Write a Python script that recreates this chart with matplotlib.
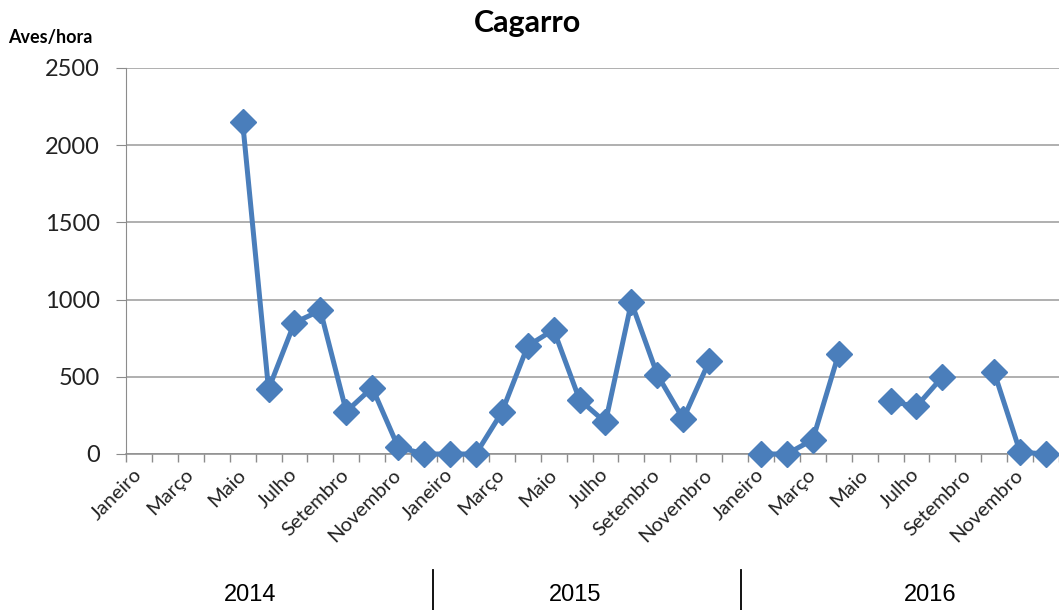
import numpy as np
import matplotlib
matplotlib.use("Agg")
import matplotlib.pyplot as plt
from matplotlib.ticker import FixedLocator

# monthly data Jan 2014 - Dec 2016 (NaN = no count)
meses = ["Janeiro", "Fevereiro", "Março", "Abril", "Maio", "Junho",
         "Julho", "Agosto", "Setembro", "Outubro", "Novembro", "Dezembro"]
anos = ["2014", "2015", "2016"]
nan = np.nan
aves_2014 = [nan, nan, nan, nan, 2150, 420, 850, 930, 275, 430, 45, 0]
aves_2015 = [0, 0, 270, 700, 805, 352, 205, 982, 514, 227, 600, nan]
aves_2016 = [0, 0, 93, 650, nan, 341, 308, 499, nan, 529, 12, 0]
valores = aves_2014 + aves_2015 + aves_2016
rotulos = meses * 3

azul = "#4a7ebb"
cinza = "#8c8c8c"
fonte = "Lato"

fig = plt.figure(figsize=(10.59, 6.10), dpi=100)
ax = fig.add_axes([126 / 1059, 156 / 610, 933 / 1059, 386 / 610])

x = np.arange(len(valores))
ax.plot(x, valores, color=azul, lw=3.6, marker="D", markersize=13,
        markeredgecolor=azul, markerfacecolor=azul, clip_on=False, zorder=3)

ax.set_xlim(-0.5, len(valores) - 0.5)
ax.set_ylim(0, 2500)
ax.set_yticks(np.arange(0, 2501, 500))
ax.yaxis.grid(True, color="#9a9a9a", lw=1.1)
ax.set_axisbelow(True)

for s in ["top", "right"]:
    ax.spines[s].set_visible(False)
ax.spines["left"].set_color(cinza)
ax.spines["bottom"].set_color(cinza)
ax.spines["bottom"].set_linewidth(1.1)

ax.tick_params(axis="y", length=7, color=cinza, labelsize=17, pad=12)
for t in ax.get_yticklabels():
    t.set_fontfamily(fonte)
    t.set_color("#222222")

# month labels every second month, ticks between categories
ax.set_xticks(x[::2])
ax.set_xticklabels(rotulos[::2], rotation=45, ha="right", va="center",
                   rotation_mode="anchor", fontsize=14.5, fontfamily=fonte,
                   color="#222222")
ax.tick_params(axis="x", which="major", length=0, pad=13)
ax.xaxis.set_minor_locator(FixedLocator(np.arange(-0.5, len(valores), 1)))
ax.tick_params(axis="x", which="minor", length=6, color=cinza, width=1)

fig.text(0.4985, 0.963, "Cagarro", ha="center", va="center", fontsize=22,
         fontweight="bold", fontfamily=fonte)
fig.text(8 / 1059, 1 - 38 / 610, "Aves/hora", ha="left", va="center",
         fontsize=13, fontweight="bold", fontfamily=fonte)

# year labels and separators under the axis
for ano, xp in zip(anos, [250, 575, 930]):
    fig.text(xp / 1059, 1 - 595 / 610, ano, ha="center", va="center",
             fontsize=17, fontfamily="Liberation Sans")
for xp in [433, 741]:
    fig.add_artist(plt.Line2D([xp / 1059, xp / 1059], [0, 1 - 570 / 610],
                              color="black", lw=1.3))

fig.savefig("out.png", dpi=100)
